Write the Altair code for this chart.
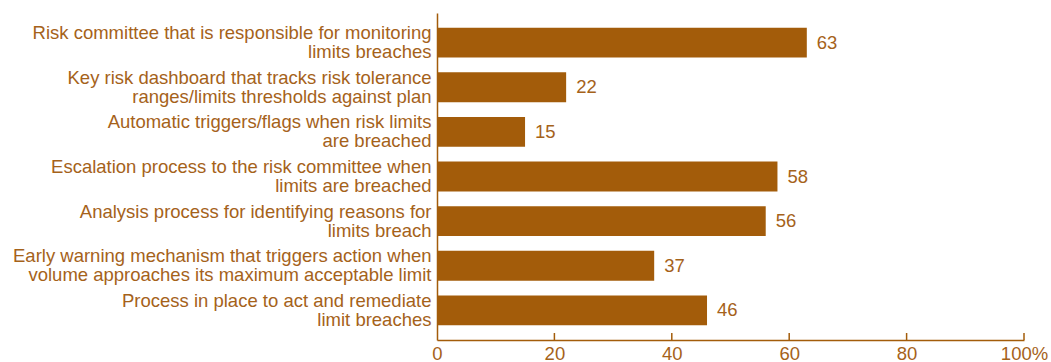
import altair as alt
import pandas as pd

categories = [
    "Risk committee that is responsible for monitoring|limits breaches",
    "Key risk dashboard that tracks risk tolerance|ranges/limits thresholds against plan",
    "Automatic triggers/flags when risk limits|are breached",
    "Escalation process to the risk committee when|limits are breached",
    "Analysis process for identifying reasons for|limits breach",
    "Early warning mechanism that triggers action when|volume approaches its maximum acceptable limit",
    "Process in place to act and remediate|limit breaches",
]
values = [63, 22, 15, 58, 56, 37, 46]
tick_values = [0, 20, 40, 60, 80, 100]

BAR = "#A35C0A"
TXT = "#A5621A"
FONT = "Liberation Sans"
FS = 18.5
W, H = 587, 327

df = pd.DataFrame({"cat": categories, "val": values})
ticks_df = pd.DataFrame({"t": tick_values[1:]})

y_enc = alt.Y(
    "cat:N",
    sort=categories,
    scale=alt.Scale(paddingInner=0.33, paddingOuter=0.33),
    axis=alt.Axis(
        title=None,
        ticks=False,
        domain=True,
        domainColor=BAR,
        domainWidth=1.5,
        labelExpr="split(datum.label, '|')",
        labelFont=FONT,
        labelFontSize=FS,
        labelColor=TXT,
        labelAlign="right",
        labelPadding=6,
        labelLineHeight=19,
        labelOffset=-9.5,
        labelLimit=500,
    ),
)
x_scale = alt.Scale(domain=[0, 100], nice=False)

bars = alt.Chart(df).mark_bar(color=BAR).encode(
    x=alt.X(
        "val:Q",
        scale=x_scale,
        axis=alt.Axis(
            title=None,
            values=tick_values,
            ticks=False,
            grid=False,
            domainColor=BAR,
            domainWidth=1.5,
            labelExpr="datum.value == 100 ? '100%' : datum.label",
            labelFont=FONT,
            labelFontSize=FS,
            labelColor=TXT,
            labelPadding=4,
            labelFlush=False,
        ),
    ),
    y=y_enc,
)

labels = alt.Chart(df).mark_text(
    align="left", baseline="middle", dx=10, font=FONT, fontSize=FS, color=TXT
).encode(
    x=alt.X("val:Q", scale=x_scale),
    y=alt.Y("cat:N", sort=categories),
    text="val:Q",
)

tick_marks = alt.Chart(ticks_df).mark_rule(color=BAR, strokeWidth=1.5).encode(
    x=alt.X("t:Q", scale=x_scale),
    y=alt.value(H - 7),
    y2=alt.value(H),
)

chart = (
    alt.layer(bars, labels, tick_marks)
    .properties(
        width=W,
        height=H,
        autosize=alt.AutoSizeParams(type="none"),
        padding={"left": 437, "top": 13, "right": 27, "bottom": 22},
        background="white",
    )
    .configure_view(stroke=None)
)

chart.save("out.html", embed_options={"renderer": "svg", "actions": False})
